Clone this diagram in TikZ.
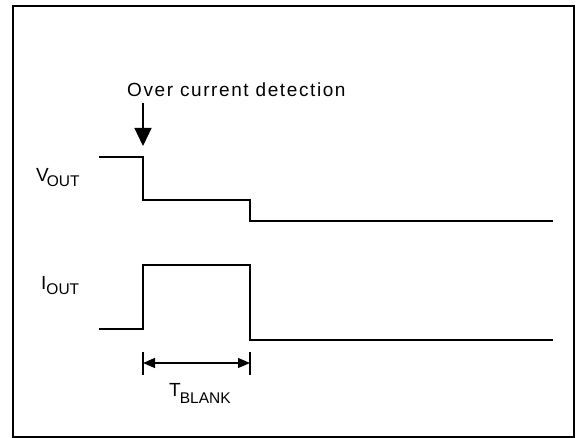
\documentclass[tikz,border=0pt]{standalone}
\usepackage{fontspec}
\setmainfont{Liberation Sans}
\usetikzlibrary{arrows.meta}
\newcommand{\mainsz}{\fontsize{19}{22}\selectfont}
\newcommand{\subsz}{\fontsize{15.5}{18}\selectfont}
\newcommand{\lsp}[1]{\kern1.6pt#1}
\begin{document}
\begin{tikzpicture}[x=1pt,y=-1pt,
  wave/.style={line width=1.3pt},
  lbl/.style={inner sep=0pt,anchor=base west},
  dim/.style={line width=1.3pt,{Triangle[length=12pt,width=10pt]}-{Triangle[length=12pt,width=10pt]}}]
\useasboundingbox (0,0) rectangle (581,438);
\draw[line width=1.1pt] (13,6) rectangle (574,437);
% Vout
\coordinate (v0) at (99,157);
\coordinate (v1) at (143,157);
\coordinate (v2) at (143,200);
\coordinate (v3) at (250,200);
\coordinate (v4) at (250,221);
\coordinate (v5) at (553,221);
\draw[wave] (v0) -- (v1) -- (v2) -- (v3) -- (v4) -- (v5);
% Iout
\coordinate (i0) at (99,329);
\coordinate (i1) at (143,329);
\coordinate (i2) at (143,265);
\coordinate (i3) at (250,265);
\coordinate (i4) at (250,340);
\coordinate (i5) at (553,340);
\draw[wave] (i0) -- (i1) -- (i2) -- (i3) -- (i4) -- (i5);
% labels
\node[lbl] (vout) at (36,182) {\mainsz V\kern-2pt\raisebox{-5pt}{\subsz OUT}};
\node[lbl] (iout) at (41,290) {\mainsz I\kern0pt\raisebox{-5pt}{\subsz OUT}};
\node[lbl] (ocd) at (127,97) {\mainsz O\lsp{v}\lsp{e}\lsp{r} \lsp{c}\lsp{u}\lsp{r}\lsp{r}\lsp{e}\lsp{n}\lsp{t} \lsp{d}\lsp{e}\lsp{t}\lsp{e}\lsp{c}\lsp{t}\lsp{i}\lsp{o}\lsp{n}};
\coordinate (arrtop) at (143,103);
\coordinate (arrtip) at (143,146);
\draw[line width=1.3pt,-{Triangle[length=18pt,width=17pt]}] (arrtop) -- (arrtip);
% dimension
\coordinate (t1a) at (143,352);
\coordinate (t1b) at (143,375);
\coordinate (t2a) at (250,352);
\coordinate (t2b) at (250,375);
\draw[line width=1.1pt] (t1a) -- (t1b) (t2a) -- (t2b);
\coordinate (d1) at (143,363);
\coordinate (d2) at (250,363);
\draw[dim] (d1) -- (d2);
\node[lbl] (tb) at (169,396) {\mainsz T\kern-1pt\raisebox{-7pt}{\subsz BLANK}};
\end{tikzpicture}
\end{document}
